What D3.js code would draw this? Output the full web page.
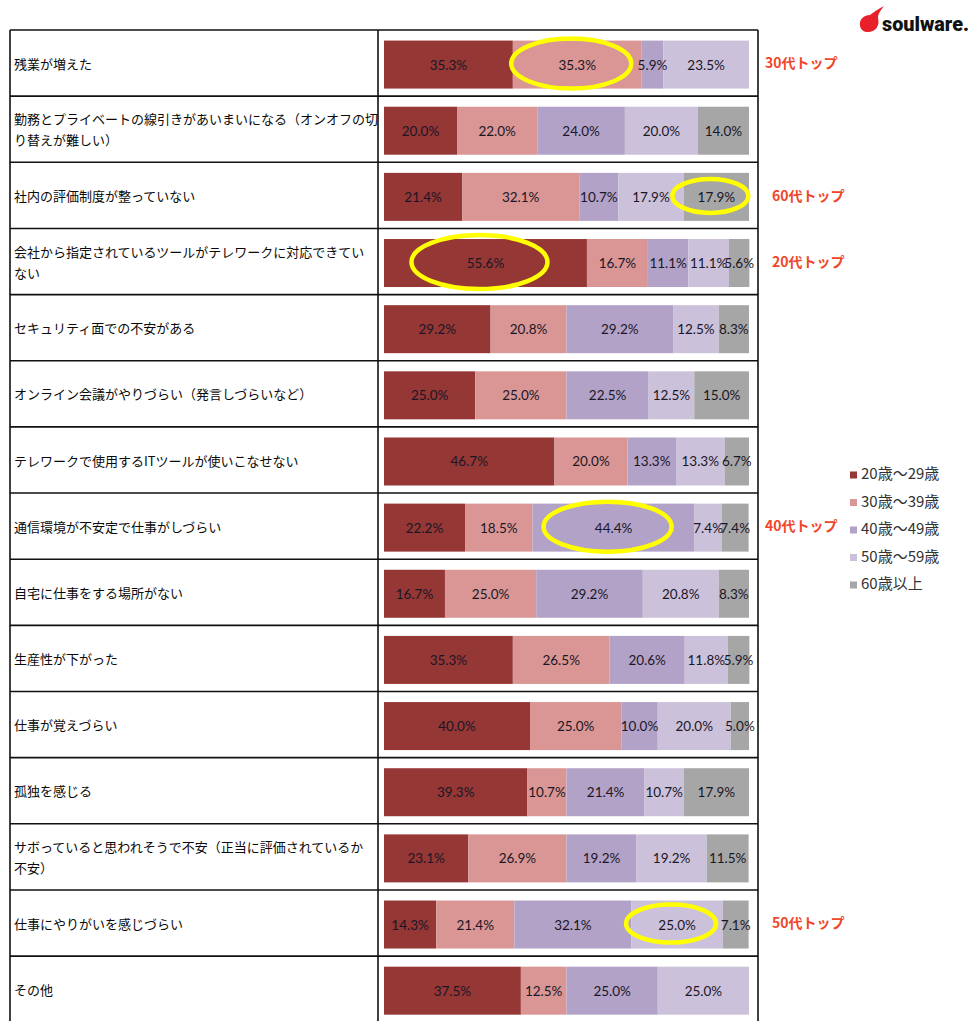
<!DOCTYPE html>
<html><head><meta charset="utf-8">
<script src="https://cdn.jsdelivr.net/npm/d3@7/dist/d3.min.js"></script>
<style>
html,body{margin:0;padding:0;background:#fff;}
svg{display:block;}
</style></head>
<body>
<svg id="chart" width="973" height="1021"></svg>
<script>
const categories = [
  "残業が増えた",
  "勤務とプライベートの線引きがあいまいになる（オンオフの切\nり替えが難しい）",
  "社内の評価制度が整っていない",
  "会社から指定されているツールがテレワークに対応できてい\nない",
  "セキュリティ面での不安がある",
  "オンライン会議がやりづらい（発言しづらいなど）",
  "テレワークで使用するITツールが使いこなせない",
  "通信環境が不安定で仕事がしづらい",
  "自宅に仕事をする場所がない",
  "生産性が下がった",
  "仕事が覚えづらい",
  "孤独を感じる",
  "サボっていると思われそうで不安（正当に評価されているか\n不安）",
  "仕事にやりがいを感じづらい",
  "その他"
];
const seriesNames = ["20歳～29歳", "30歳～39歳", "40歳～49歳", "50歳～59歳", "60歳以上"];
const age20s = [35.3, 20.0, 21.4, 55.6, 29.2, 25.0, 46.7, 22.2, 16.7, 35.3, 40.0, 39.3, 23.1, 14.3, 37.5];
const age30s = [35.3, 22.0, 32.1, 16.7, 20.8, 25.0, 20.0, 18.5, 25.0, 26.5, 25.0, 10.7, 26.9, 21.4, 12.5];
const age40s = [5.9, 24.0, 10.7, 11.1, 29.2, 22.5, 13.3, 44.4, 29.2, 20.6, 10.0, 21.4, 19.2, 32.1, 25.0];
const age50s = [23.5, 20.0, 17.9, 11.1, 12.5, 12.5, 13.3, 7.4, 20.8, 11.8, 20.0, 10.7, 19.2, 25.0, 25.0];
const age60s = [0, 14.0, 17.9, 5.6, 8.3, 15.0, 6.7, 7.4, 8.3, 5.9, 5.0, 17.9, 11.5, 7.1, 0];
const xTicks = [0, 100];
// highlighted cells: [row index, series index, side note]
const highlightRows = [0, 2, 3, 7, 13];
const highlightSeries = [1, 4, 0, 2, 3];
const highlightNotes = ["30代トップ", "60代トップ", "20代トップ", "40代トップ", "50代トップ"];

const colors = ["#953735", "#d99694", "#b3a2c7", "#ccc1da", "#a6a6a6"];
const seriesData = [age20s, age30s, age40s, age50s, age60s];

const svg = d3.select("#chart");
const tableLeft = 10, tableRight = 758, divider = 378, tableTop = 30;
const rowH = 66.15;

const y = d3.scaleBand().domain(d3.range(categories.length))
  .range([tableTop, tableTop + rowH * categories.length]).padding(0);
const x = d3.scaleLinear().domain([xTicks[0], xTicks[1]]).range([384, 749]);
const barH = 48;

const rows = categories.map((c, i) => {
  let acc = 0;
  const segs = seriesData.map((s, k) => {
    const seg = {row: i, k, v: s[i], x0: acc, x1: acc + s[i]};
    acc += s[i];
    return seg;
  });
  return {label: c, segs};
});

// table lines
const g = svg.append("g");
g.append("line").attr("x1", tableLeft).attr("x2", tableRight).attr("y1", tableTop).attr("y2", tableTop)
  .attr("stroke", "#111").attr("stroke-width", 1.6);
d3.range(1, categories.length + 1).forEach(i => {
  const yy = y(i - 1) + rowH;
  g.append("line").attr("x1", tableLeft).attr("x2", tableRight).attr("y1", yy).attr("y2", yy)
    .attr("stroke", "#111").attr("stroke-width", 1.6);
});
[tableLeft, divider, tableRight].forEach(xx => {
  g.append("line").attr("x1", xx).attr("x2", xx).attr("y1", tableTop).attr("y2", 1021)
    .attr("stroke", "#111").attr("stroke-width", 1.6);
});

// row labels
rows.forEach((r, i) => {
  const lines = r.label.split("\n");
  const cy = y(i) + rowH / 2 + 2;
  const lh = 21;
  const t = svg.append("text").attr("font-family", "'Noto Sans CJK JP', sans-serif")
    .attr("font-size", 13).attr("fill", "#0a0a0a");
  lines.forEach((ln, j) => {
    t.append("tspan").attr("x", 14)
      .attr("y", cy + (j - (lines.length - 1) / 2) * lh)
      .attr("dominant-baseline", "middle").text(ln);
  });
});

// bars
const barG = svg.append("g");
rows.forEach((r, i) => {
  const by = y(i) + (rowH - barH) / 2 + 1.5;
  r.segs.forEach(s => {
    if (s.v <= 0) return;
    barG.append("rect").attr("x", x(s.x0)).attr("y", by)
      .attr("width", x(s.x1) - x(s.x0)).attr("height", barH)
      .attr("fill", colors[s.k]);
  });
  r.segs.forEach(s => {
    if (s.v <= 0) return;
    barG.append("text").attr("x", (x(s.x0) + x(s.x1)) / 2).attr("y", by + barH / 2)
      .attr("text-anchor", "middle").attr("dominant-baseline", "central")
      .attr("font-family", "Lato, 'Open Sans', sans-serif").attr("font-size", 13.5)
      .attr("fill", "#1a1626").text(s.v.toFixed(1) + "%");
  });
});

// highlights
const ellipseRx = [60, 38, 68, 64, 45];
const ellipseRy = [25, 17, 27, 25, 19];
const noteX = [765, 772, 772, 765, 772];
highlightRows.forEach((ri, h) => {
  const s = rows[ri].segs[highlightSeries[h]];
  const cx = (x(s.x0) + x(s.x1)) / 2 - 6;
  const cy = y(ri) + rowH / 2 + 0.5;
  svg.append("ellipse").attr("cx", cx).attr("cy", cy)
    .attr("rx", ellipseRx[h]).attr("ry", ellipseRy[h])
    .attr("fill", "none").attr("stroke", "#ffff00").attr("stroke-width", 4.5);
  svg.append("text").attr("x", noteX[h]).attr("y", cy + 1)
    .attr("dominant-baseline", "middle")
    .attr("font-family", "'Noto Sans CJK JP', sans-serif").attr("font-weight", "bold")
    .attr("font-size", 14).attr("fill", "#f0462a").text(highlightNotes[h]);
});

// legend
const lg = svg.append("g").attr("transform", "translate(850,475)");
seriesNames.forEach((n, k) => {
  const gy = k * 27.5;
  lg.append("rect").attr("x", 0).attr("y", gy - 3.5).attr("width", 7).attr("height", 7).attr("fill", colors[k]);
  lg.append("text").attr("x", 11).attr("y", gy).attr("dominant-baseline", "middle")
    .attr("font-family", "'Noto Sans CJK JP', sans-serif").attr("font-size", 15)
    .attr("fill", "#333").text(n);
});

// logo
const logo = svg.append("g");
logo.append("path")
  .attr("d", "M860,26 C859,19 864,15 870,15 C874,12 878,9 884,6 C880,11 878,14 878,18 C880,25 876,32 868,32 C864,32 861,30 860,26 Z")
  .attr("fill", "#e8202a");
logo.append("text").attr("x", 882).attr("y", 31)
  .attr("font-family", "Roboto, 'DejaVu Sans', sans-serif").attr("font-weight", "900")
  .attr("font-size", 21).attr("fill", "#111")
  .attr("textLength", 87).attr("lengthAdjust", "spacingAndGlyphs").text("soulware.");
</script>
</body></html>
